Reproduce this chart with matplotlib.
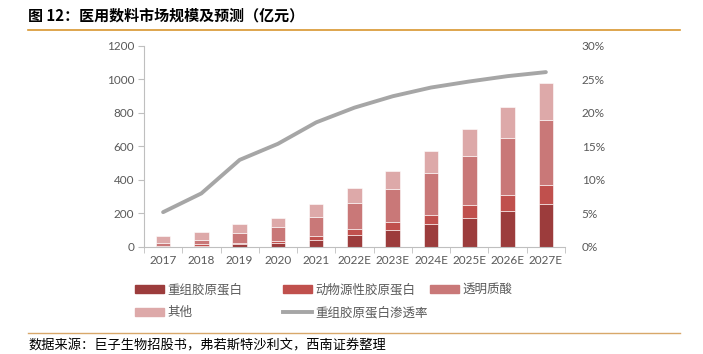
import numpy as np
import matplotlib.pyplot as plt
from matplotlib.patches import Patch
from matplotlib.lines import Line2D

plt.rcParams['font.family'] = ['Noto Sans CJK SC', 'DejaVu Sans']

years = ['2017', '2018', '2019', '2020', '2021', '2022E', '2023E',
         '2024E', '2025E', '2026E', '2027E']
recomb = [5, 8, 16, 22, 42, 72, 101, 137, 173, 213, 257]
animal = [8, 16, 26, 36, 66, 106, 147, 191, 249, 309, 368]   # cumulative top
hyal = [25, 42, 86, 120, 182, 261, 346, 440, 545, 653, 760]  # cumulative top
total = [67, 92, 140, 176, 258, 350, 454, 573, 703, 838, 977]
rate = [5.2, 8.0, 13.0, 15.4, 18.6, 20.8, 22.5, 23.8, 24.7, 25.5, 26.1]

names = ['重组胶原蛋白', '动物源性胶原蛋白', '透明质酸', '其他', '重组胶原蛋白渗透率']
colors = ['#9C3C3C', '#C0504D', '#C97878', '#DDA9A9']
line_color = '#A6A6A6'
grey = '#595959'

recomb = np.array(recomb)
animal_v = np.array(animal) - recomb
hyal_v = np.array(hyal) - np.array(animal)
other_v = np.array(total) - np.array(hyal)

fig = plt.figure(figsize=(7.03, 3.54), dpi=100)
ax = fig.add_axes([0.2048, 0.3023, 0.5989, 0.5678])
x = np.arange(len(years))
w = 0.38
bottom = np.zeros(len(years))
for vals, c in zip([recomb, animal_v, hyal_v, other_v], colors):
    ax.bar(x, vals, w, bottom=bottom, color=c, edgecolor='white', linewidth=0.4)
    bottom = bottom + vals

ax.set_ylim(0, 1200)
ax.set_yticks(range(0, 1201, 200))
ax.set_xlim(-0.5, len(years) - 0.5)
ax.set_xticks(x)
ax.set_xticklabels(years)
ax.set_xticks(np.arange(-0.5, len(years), 1), minor=True)
ax.tick_params(axis='x', which='major', length=0, labelsize=8.5, colors=grey, pad=6)
ax.tick_params(axis='x', which='minor', length=4, color='#BFBFBF')
ax.tick_params(axis='y', length=4, color='#BFBFBF', labelsize=8.5, colors=grey, pad=3)
for s in ['top', 'right']:
    ax.spines[s].set_visible(False)
ax.spines['left'].set_color('#BFBFBF')
ax.spines['bottom'].set_color('#BFBFBF')

ax2 = ax.twinx()
ax2.plot(x, rate, color=line_color, lw=2.8, solid_capstyle='round')
ax2.set_ylim(0, 30)
ax2.set_yticks(range(0, 31, 5))
ax2.set_yticklabels([f'{v}%' for v in range(0, 31, 5)])
ax2.tick_params(axis='y', length=0, labelsize=8.5, colors=grey, pad=12)
for s in ['top', 'right', 'left', 'bottom']:
    ax2.spines[s].set_visible(False)

for lab in ax.get_xticklabels() + ax.get_yticklabels() + ax2.get_yticklabels():
    lab.set_fontfamily(['Lato', 'DejaVu Sans'])

h = [Patch(color=c) for c in colors] + [Line2D([], [], color=line_color, lw=2.8)]
kw = dict(frameon=False, fontsize=9, labelcolor=grey, handlelength=2.3,
          handleheight=0.6, handletextpad=0.3, labelspacing=0.8,
          loc='upper left', borderpad=0, borderaxespad=0)
fig.legend([h[0], h[3]], [names[0], names[3]], bbox_to_anchor=(135 / 703, 1 - 283 / 354), **kw)
fig.legend([h[1], h[4]], [names[1], names[4]], bbox_to_anchor=(283 / 703, 1 - 283 / 354), **kw)
fig.legend([h[2]], [names[2]], bbox_to_anchor=(430 / 703, 1 - 283 / 354), **kw)

fig.text(28 / 703, 1 - 15 / 354, '图 12：医用数料市场规模及预测（亿元）', fontsize=10.8,
         fontweight='bold', va='center', ha='left', color='black')
fig.add_artist(Line2D([28 / 703, 680 / 703], [1 - 30 / 354] * 2, color='#D8962F', lw=1.2))
fig.add_artist(Line2D([28 / 703, 680 / 703], [1 - 333 / 354] * 2, color='#D8A86A', lw=1.0))
fig.text(28 / 703, 1 - 346 / 354, '数据来源：巨子生物招股书，弗若斯特沙利文，西南证券整理',
         fontsize=9.5, va='center', ha='left', color='black', style='italic')

fig.savefig('out.png', dpi=100)
